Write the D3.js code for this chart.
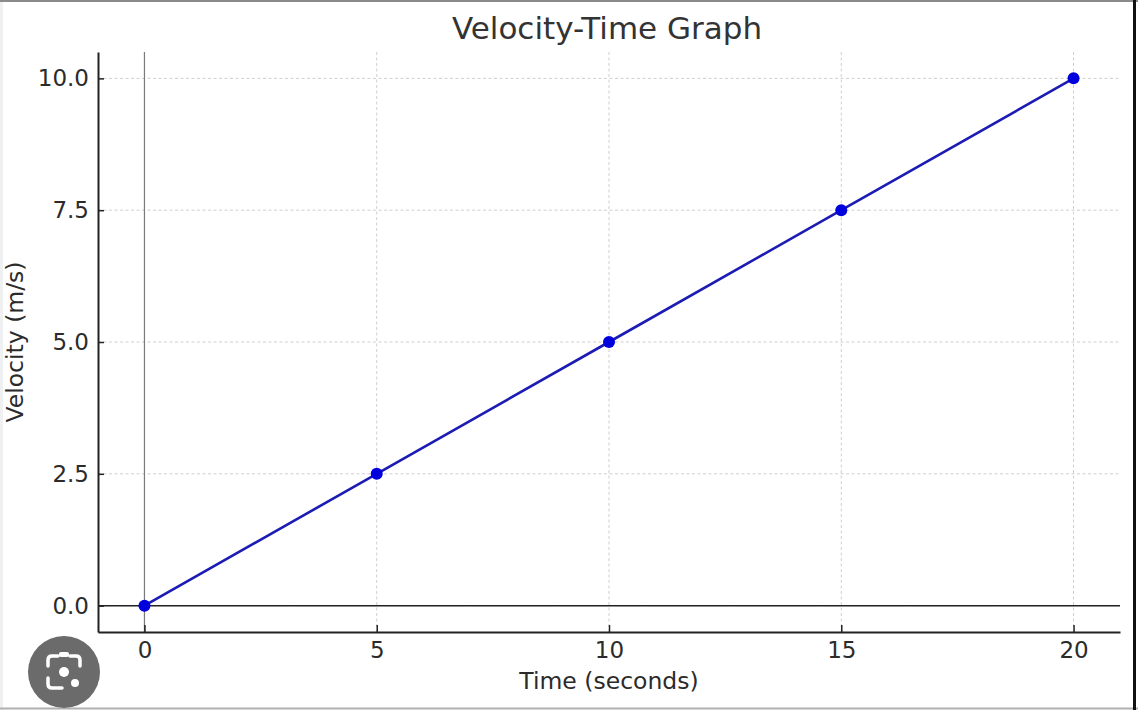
<!DOCTYPE html>
<html>
<head>
<meta charset="utf-8">
<script src="https://cdn.jsdelivr.net/npm/d3@7"></script>
<style>
  html, body { margin: 0; padding: 0; background: #fff; }
  svg { display: block; font-family: "DejaVu Sans", sans-serif; }
</style>
</head>
<body>
<svg id="chart" width="1138" height="710"></svg>
<script>
// ---- data ----
const timeValues = [0, 5, 10, 15, 20];
const velocityValues = [0, 2.5, 5, 7.5, 10];
const xTickValues = [0, 5, 10, 15, 20];
const yTickValues = [0, 2.5, 5, 7.5, 10];
const chartTitle = "Velocity-Time Graph";
const xLabel = "Time (seconds)";
const yLabel = "Velocity (m/s)";

const svg = d3.select("#chart");
const W = 1138, H = 710;
const m = { left: 98, right: 1120, top: 52, bottom: 632 };

const x = d3.scaleLinear().domain([-1, 21]).range([m.left, m.right]);
const y = d3.scaleLinear().domain([-0.5, 10.5]).range([m.bottom, m.top]);

// screenshot frame
svg.append("rect").attr("x", 0).attr("y", 0).attr("width", W).attr("height", H).attr("fill", "#fff");
svg.append("rect").attr("x", 0).attr("y", 0).attr("width", 3).attr("height", H).attr("fill", "#eef0f2");
svg.append("line").attr("x1", 0).attr("x2", W).attr("y1", 1).attr("y2", 1).attr("stroke", "#8a8a8a").attr("stroke-width", 2);
svg.append("line").attr("x1", 0).attr("x2", W).attr("y1", 708.5).attr("y2", 708.5).attr("stroke", "#b0b0b0").attr("stroke-width", 2);
svg.append("line").attr("x1", 1134.5).attr("x2", 1134.5).attr("y1", 0).attr("y2", H).attr("stroke", "#111").attr("stroke-width", 3);

// grid
const grid = svg.append("g").attr("stroke", "#cfcfcf").attr("stroke-width", 1).attr("stroke-dasharray", "3,2.5");
grid.selectAll("line.gx").data(xTickValues).join("line")
  .attr("x1", d => x(d)).attr("x2", d => x(d)).attr("y1", m.top).attr("y2", m.bottom);
grid.selectAll("line.gy").data(yTickValues).join("line")
  .attr("x1", m.left).attr("x2", m.right).attr("y1", d => y(d)).attr("y2", d => y(d));

// zero lines
svg.append("line").attr("x1", x(0)).attr("x2", x(0)).attr("y1", m.top).attr("y2", m.bottom)
  .attr("stroke", "#7a7a7a").attr("stroke-width", 1.2);
svg.append("line").attr("x1", m.left).attr("x2", m.right).attr("y1", y(0)).attr("y2", y(0))
  .attr("stroke", "#222").attr("stroke-width", 1.5);

// axes
const xAxis = d3.axisBottom(x).tickValues(xTickValues).tickFormat(d3.format("d"))
  .tickSizeInner(-7).tickSizeOuter(0).tickPadding(10);
const yAxis = d3.axisLeft(y).tickValues(yTickValues).tickFormat(d3.format(".1f"))
  .tickSizeInner(-6).tickSizeOuter(0).tickPadding(9);

const gx = svg.append("g").attr("transform", `translate(0,${m.bottom})`).call(xAxis);
const gy = svg.append("g").attr("transform", `translate(${m.left},0)`).call(yAxis);
[gx, gy].forEach(g => {
  g.select(".domain").attr("stroke", "#222").attr("stroke-width", 2);
  g.selectAll(".tick line").attr("stroke", "#222").attr("stroke-width", 1.5);
  g.selectAll(".tick text").attr("fill", "#2b2b2b").style("font-size", "23px")
    .style("font-family", "'DejaVu Sans', sans-serif");
});

// line + markers
const line = d3.line().x((d, i) => x(timeValues[i])).y(d => y(d));
svg.append("path").datum(velocityValues).attr("d", line)
  .attr("fill", "none").attr("stroke", "#1c1cb4").attr("stroke-width", 2.6);
svg.selectAll("circle.pt").data(velocityValues).join("circle")
  .attr("class", "pt").attr("cx", (d, i) => x(timeValues[i])).attr("cy", d => y(d))
  .attr("r", 6).attr("fill", "#0000dc");

// title & labels
svg.append("text").attr("x", (m.left + m.right) / 2 - 2).attr("y", 39)
  .attr("text-anchor", "middle").attr("fill", "#333").style("font-size", "31px").text(chartTitle);
svg.append("text").attr("x", (m.left + m.right) / 2).attr("y", 689)
  .attr("text-anchor", "middle").attr("fill", "#2b2b2b").style("font-size", "23.5px").text(xLabel);
svg.append("text").attr("transform", `translate(23,${(m.top + m.bottom) / 2}) rotate(-90)`)
  .attr("text-anchor", "middle").attr("fill", "#2b2b2b").style("font-size", "23.5px").text(yLabel);

// image-search overlay badge (from the screenshot)
const badge = svg.append("g").attr("transform", "translate(64,672)");
badge.append("circle").attr("r", 36).attr("fill", "#6b6b6b");
badge.append("path").attr("d", "M-16,-6 V-12 Q-16,-16 -12,-16 H-6 M6,-16 H12 Q16,-16 16,-12 V-6 M-16,6 V12 Q-16,16 -12,16 H-2")
  .attr("fill", "none").attr("stroke", "#fff").attr("stroke-width", 3.5).attr("stroke-linecap", "round");
badge.append("circle").attr("cx", 0).attr("cy", 0).attr("r", 5).attr("fill", "#fff");
badge.append("circle").attr("cx", 11).attr("cy", 11).attr("r", 4).attr("fill", "#fff");
badge.append("rect").attr("x", -5).attr("y", -20).attr("width", 10).attr("height", 5).attr("rx", 2).attr("fill", "#fff");
</script>
</body>
</html>
